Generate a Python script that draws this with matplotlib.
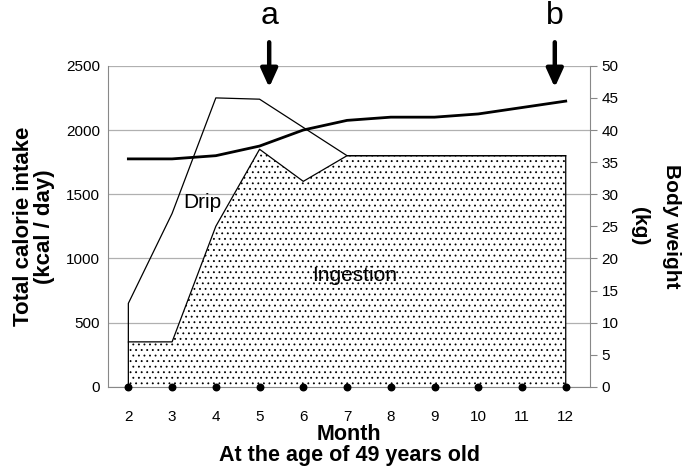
import matplotlib.pyplot as plt
import numpy as np

plt.rcParams['font.family'] = ['Liberation Sans', 'DejaVu Sans']
plt.rcParams['hatch.linewidth'] = 0.6

months = [2, 3, 4, 5, 6, 7, 8, 9, 10, 11, 12]
ingestion = [350, 350, 1250, 1850, 1600, 1800, 1800, 1800, 1800, 1800, 1800]
total = [650, 1350, 2250, 2240, 2020, 1800, 1800, 1800, 1800, 1800, 1800]
weight = [35.5, 35.5, 36, 37.5, 40, 41.5, 42, 42, 42.5, 43.5, 44.5]
arrows = {'a': 5.22, 'b': 11.75}

fig = plt.figure(figsize=(6.85, 4.70), dpi=100)
ax = fig.add_axes([0.158, 0.177, 0.703, 0.683])

# ingestion (dotted) and drip (white) areas
ax.fill_between(months, 0, ingestion, facecolor='white', edgecolor='black',
                hatch='...', linewidth=0)
ax.plot([months[0]] + months + [months[-1]], [0] + ingestion + [0], color='black', lw=0.9)
ax.plot([months[0]] + months + [months[-1]], [ingestion[0]] + total + [ingestion[-1]],
        color='black', lw=0.9)
ax.scatter(months, [0] * len(months), color='black', s=22, zorder=5, clip_on=False)

ax.set_xlim(1.54, 12.55)
ax.set_ylim(0, 2500)
ax.set_yticks(range(0, 2501, 500))
ax.set_xticks(months)
ax.yaxis.grid(True, color='#b0b0b0', lw=0.9)
ax.set_axisbelow(True)
for s in ['top', 'right']:
    ax.spines[s].set_visible(False)
ax.spines['left'].set_color('#888888')
ax.spines['bottom'].set_color('#888888')
ax.tick_params(axis='x', length=0, pad=17, labelsize=11)
ax.tick_params(axis='y', length=0, pad=6, labelsize=11)
ax.set_xlabel('Month\nAt the age of 49 years old', fontsize=15.5, fontweight='bold',
              labelpad=0, linespacing=1.0)
ax.set_ylabel('Total calorie intake\n(kcal / day)', fontsize=16, fontweight='bold',
              labelpad=8, linespacing=1.0)

ax.text(3.69, 1433, 'Drip', fontsize=15, ha='center', va='center')
ax.text(7.18, 864, 'Ingestion', fontsize=15, ha='center', va='center')

ax2 = ax.twinx()
ax2.plot(months, weight, color='black', lw=2)
ax2.set_ylim(0, 50)
ax2.set_yticks(range(0, 51, 5))
for s in ['top', 'left', 'bottom']:
    ax2.spines[s].set_visible(False)
ax2.spines['right'].set_color('#888888')
ax2.tick_params(axis='y', length=5, color='#888888', labelsize=11)
ax2.set_ylabel('Body weight\n(kg)', fontsize=15, fontweight='bold', rotation=270,
               labelpad=45, linespacing=1.85)

for name, xm in arrows.items():
    ax.annotate('', xy=(xm, 2310), xytext=(xm, 2705),
                arrowprops=dict(arrowstyle='-|>,head_width=0.5,head_length=1.1',
                                color='black', lw=3.2), annotation_clip=False)
    ax.text(xm, 2822, name, fontsize=23, ha='center', va='baseline')

plt.savefig('out.png', dpi=100)
